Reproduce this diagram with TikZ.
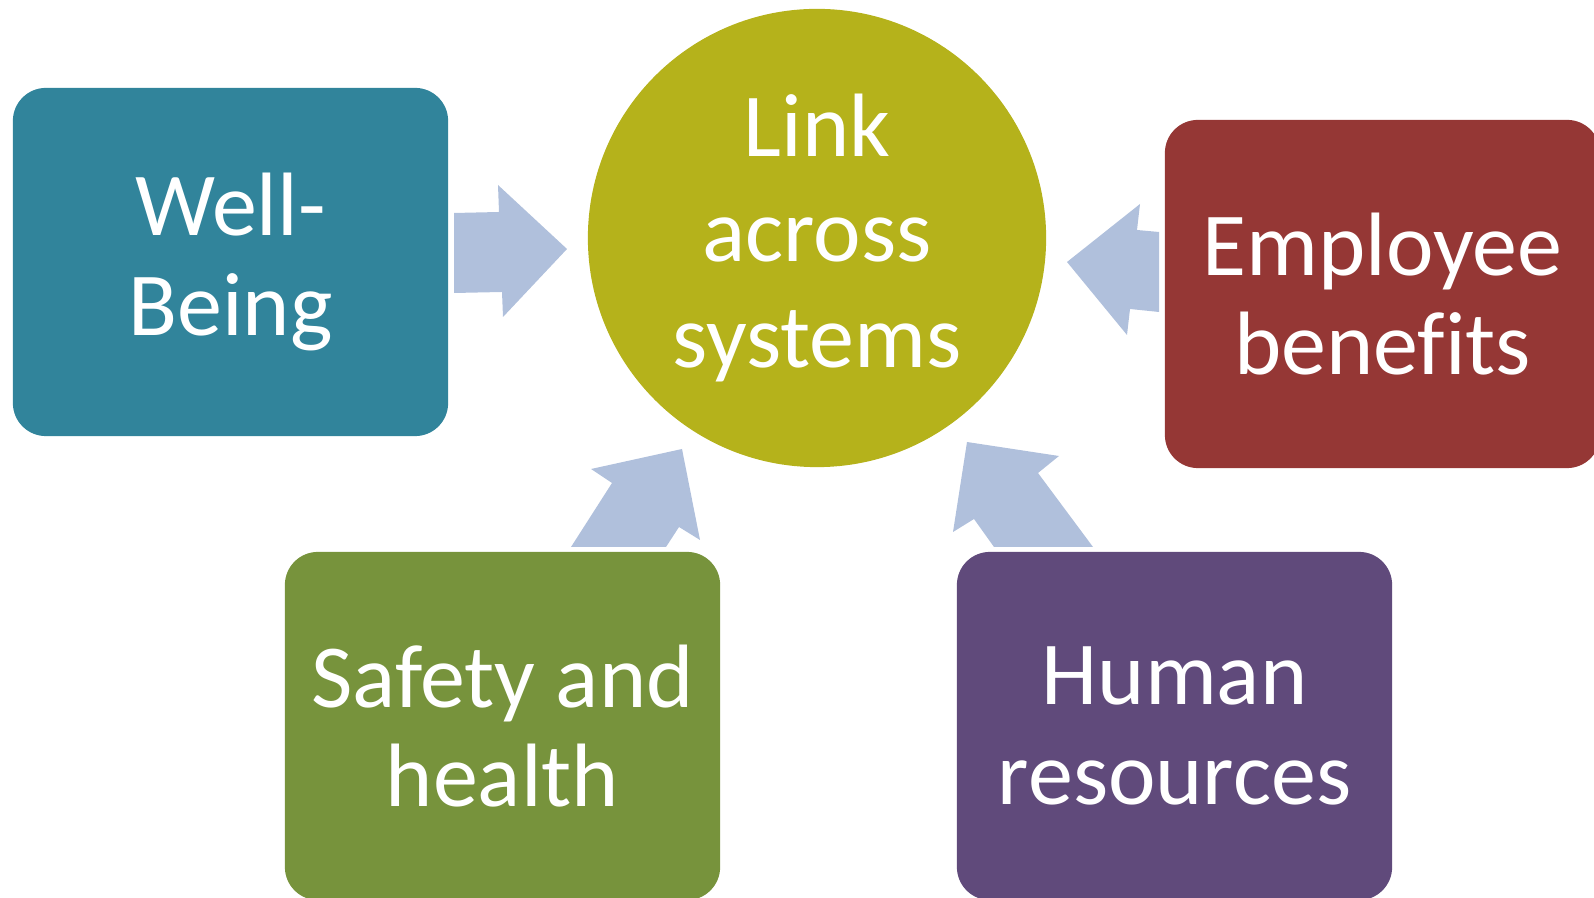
\documentclass[tikz,border=0pt]{standalone}
\usepackage{fontspec}
\setmainfont[Ligatures=NoCommon]{Carlito}
\definecolor{tealbox}{HTML}{31849B}
\definecolor{olivekreis}{HTML}{B5B21B}
\definecolor{rotbox}{HTML}{953735}
\definecolor{gruenbox}{HTML}{77933C}
\definecolor{lilabox}{HTML}{604A7B}
\definecolor{pfeilblau}{HTML}{B0C0DC}
\tikzset{
	kasten/.style={rectangle, rounded corners=0.33cm, minimum width=4.35cm, minimum height=3.48cm, inner sep=0pt, align=center, text=white, font=\fontsize{25.6}{28.3}\selectfont},
	kreis/.style={circle, fill=olivekreis, minimum size=4.58cm, inner sep=0pt, align=center, text=white, font=\fontsize{25.6}{30}\selectfont},
	pfeil/.style={fill=pfeilblau}
}
\begin{document}
\begin{tikzpicture}[x=0.01cm, y=-0.01cm]
	\useasboundingbox (0, 0) rectangle (1594, 898);
	\clip (0, 0) rectangle (1594, 898);
	% Kreis in der Mitte
	\node [kreis] (link) at (817, 238) {Link\\across\\systems};
	% Kaesten
	\node [kasten, fill=tealbox] (well) at (230.5, 262) {Well-\\Being};
	\node [kasten, fill=rotbox] (benefits) at (1382.5, 294) {Employee\\benefits};
	\node [kasten, fill=gruenbox] (safety) at (502.5, 726) {Safety and\\health};
	\node [kasten, fill=lilabox] (hr) at (1174.5, 726) {Human\\resources};
	% Pfeile
	\fill [pfeil] (454, 213) -- (499, 212) -- (498, 185) -- (567, 249) -- (503, 317) -- (502, 292) -- (454, 293) -- cycle;
	\fill [pfeil] (1159, 232) -- (1137, 230) -- (1140, 204) -- (1067, 262) -- (1127, 335) -- (1130, 309) -- (1159, 312) -- cycle;
	\fill [pfeil] (571, 547) -- (612, 483) -- (591, 469) -- (682, 449) -- (700, 540) -- (679, 527) -- (666, 547) -- cycle;
	\fill [pfeil] (1093, 547) -- (1038, 473) -- (1059, 456) -- (967, 442) -- (953, 532) -- (974, 519) -- (994, 547) -- cycle;
\end{tikzpicture}
\end{document}
